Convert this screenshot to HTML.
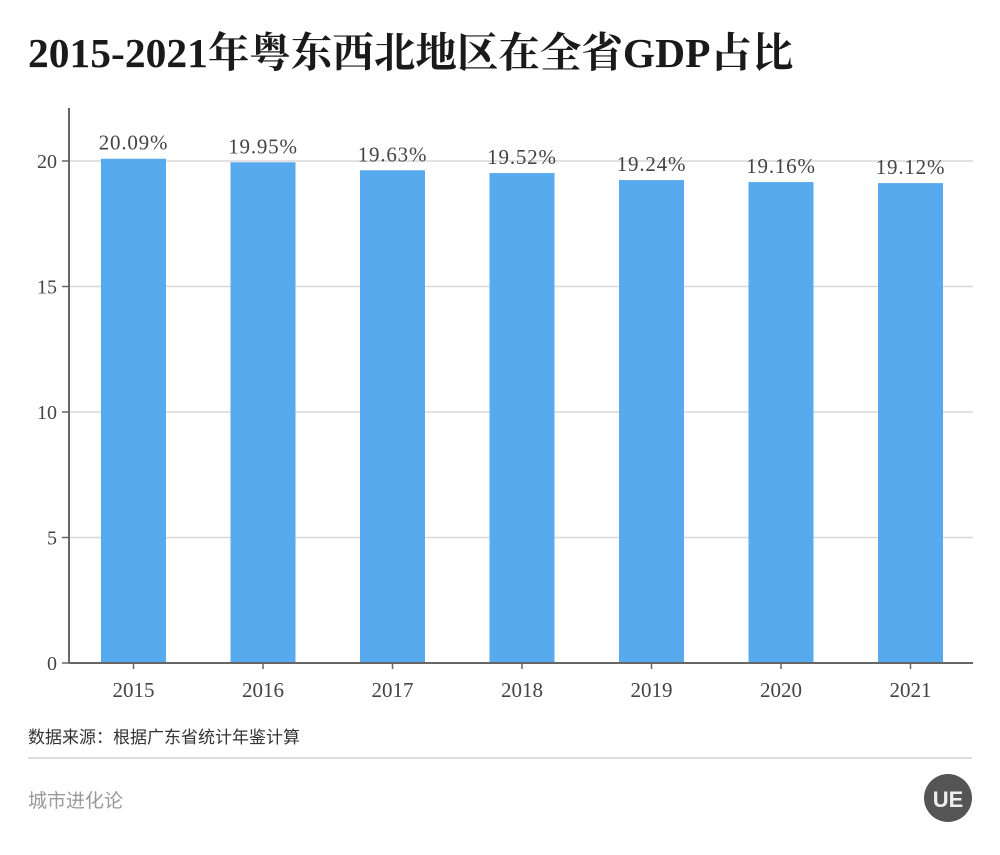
<!DOCTYPE html>
<html><head><meta charset="utf-8"><style>
body{margin:0;background:#fff;width:1000px;height:850px;overflow:hidden;font-family:"Liberation Serif","Noto Serif CJK SC",serif}
</style></head><body>
<svg id="chart" width="1000" height="850" xmlns="http://www.w3.org/2000/svg">
<text x="28" y="67" font-size="41.5" font-weight="bold" fill="#1a1a1a" font-family="'Liberation Serif','Noto Serif CJK SC',serif">2015-2021年粤东西北地区在全省GDP占比</text>
<g id="grid"></g><g id="bars"></g><g id="axes"></g>
<text x="28" y="743" font-size="17" fill="#333" font-family="'Liberation Sans','Noto Sans CJK SC',sans-serif">数据来源：根据广东省统计年鉴计算</text>
<line x1="28" y1="758" x2="972" y2="758" stroke="#ddd" stroke-width="2"/>
<text x="28" y="807" font-size="19" fill="#999" font-family="'Liberation Sans','Noto Sans CJK SC',sans-serif">城市进化论</text>
<g><circle cx="948" cy="798" r="24" fill="#555"/><text x="948" y="807" font-size="22" font-weight="bold" fill="#eee" text-anchor="middle" font-family="'Liberation Sans',sans-serif">UE</text></g>
</svg>
<script>
const categories=["2015","2016","2017","2018","2019","2020","2021"];
const values=[20.09,19.95,19.63,19.52,19.24,19.16,19.12];
const valueLabels=["20.09%","19.95%","19.63%","19.52%","19.24%","19.16%","19.12%"];
const yTicks=[0,5,10,15,20];
const NS="http://www.w3.org/2000/svg";
const x0=69,x1=973,y0=663,yTop=108;
const y=v=>y0-v*25.1;
const step=129.5,firstC=133.5;
const xc=i=>firstC+i*step;
function mk(tag,attrs,parent){const e=document.createElementNS(NS,tag);for(const k in attrs)e.setAttribute(k,attrs[k]);parent.appendChild(e);return e;}
const grid=document.getElementById('grid'),bars=document.getElementById('bars'),axes=document.getElementById('axes');
yTicks.forEach(t=>{
 if(t>0){const g=mk('line',{x1:x0,x2:x1,y1:y(t),y2:y(t),stroke:'#d8d8d8','stroke-width':1.5},grid);
 
 }
 const tk=mk('line',{x1:x0-7,x2:x0,y1:y(t),y2:y(t),stroke:'#666','stroke-width':1.5},axes);
 
 
 const tl=mk('text',{x:x0-12,y:y(t)+7,'font-size':20,fill:'#444','text-anchor':'end'},axes);
 tl.textContent=t;
 
 
});
categories.forEach((c,i)=>{
 const b=mk('rect',{x:xc(i)-32.5,y:y(values[i]),width:65,height:y0-y(values[i]),fill:'#58aaee'},bars);
 
 
 const l=mk('text',{x:xc(i),y:y(values[i])-9,'font-size':21,fill:'#444','text-anchor':'middle','letter-spacing':'0.8'},bars);
 l.textContent=valueLabels[i];
 
 
 const tk=mk('line',{x1:xc(i),x2:xc(i),y1:y0,y2:y0+6,stroke:'#666','stroke-width':1.5},axes);
 
 
 const xl=mk('text',{x:xc(i),y:y0+34,'font-size':21,fill:'#444','text-anchor':'middle'},axes);
 xl.textContent=c;
 
 
});
const ya=mk('line',{x1:x0,x2:x0,y1:yTop,y2:y0,stroke:'#666','stroke-width':2},axes);


const xa=mk('line',{x1:x0,x2:x1,y1:y0,y2:y0,stroke:'#666','stroke-width':2},axes);


</script>
</body></html>
